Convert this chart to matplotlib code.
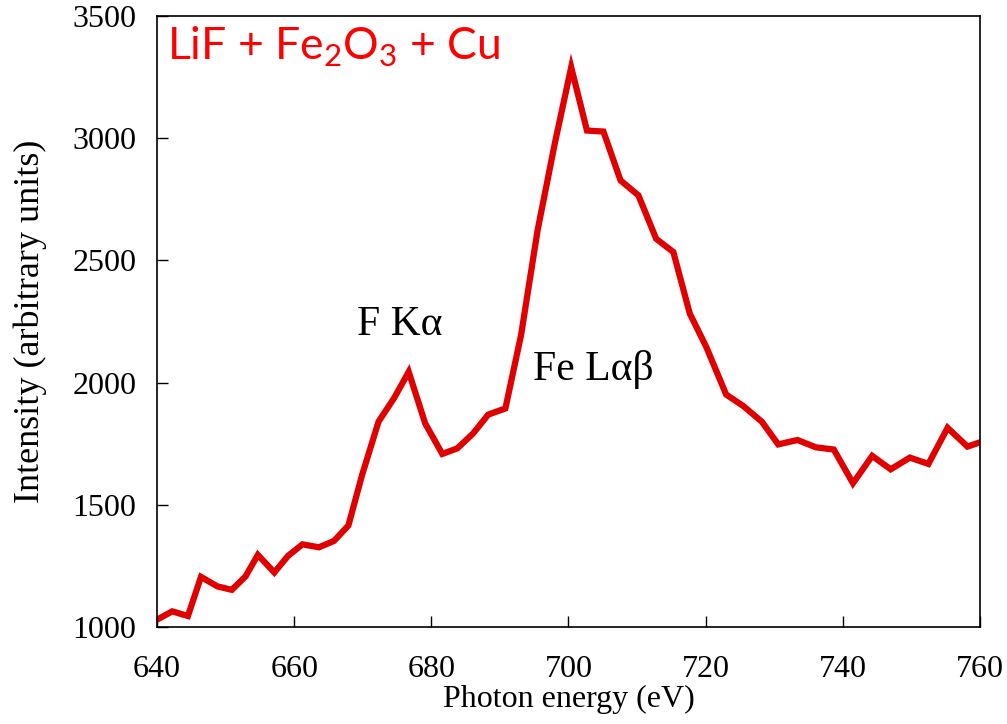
import numpy as np
import matplotlib
matplotlib.use('Agg')
import matplotlib.pyplot as plt

# photon energy (eV) and intensity
energy = [640.0, 642.2, 644.5, 646.4, 648.8, 650.9, 652.9, 654.7, 657.1, 659.1,
          661.2, 663.6, 665.8, 667.9, 669.9, 672.3, 674.6, 676.7, 679.1, 681.6,
          683.8, 686.1, 688.3, 690.8, 693.1, 695.5, 698.0, 700.4, 702.7, 705.1,
          707.6, 710.2, 712.8, 715.3, 717.7, 720.1, 723.0, 725.5, 728.2, 730.6,
          733.4, 736.1, 738.7, 741.5, 744.3, 747.0, 749.8, 752.5, 755.3, 758.2,
          760.5]
intensity = [1030, 1064, 1045, 1205, 1166, 1152, 1207, 1295, 1223, 1291,
             1338, 1326, 1352, 1415, 1622, 1840, 1938, 2044, 1833, 1708,
             1731, 1792, 1869, 1894, 2196, 2623, 2977, 3290, 3031, 3027,
             2827, 2766, 2588, 2534, 2282, 2146, 1951, 1904, 1840, 1747,
             1765, 1735, 1726, 1588, 1700, 1645, 1693, 1667, 1815, 1738,
             1760]

xticks = [640, 660, 680, 700, 720, 740, 760]
yticks = [1000, 1500, 2000, 2500, 3000, 3500]

plt.rcParams['mathtext.fontset'] = 'custom'
plt.rcParams['mathtext.rm'] = 'Lato'

fig = plt.figure(figsize=(10.07, 7.24), dpi=100)
ax = fig.add_axes([0.156, 0.134, 0.817, 0.844])

ax.plot(energy, intensity, color='#e00000', linewidth=4.5, solid_joinstyle='miter')

ax.set_xlim(640, 760)
ax.set_ylim(1000, 3500)
ax.set_xticks(xticks)
ax.set_yticks(yticks)
ax.tick_params(direction='in', length=8, width=1, top=False, right=False)
ax.tick_params(axis='x', pad=20)
ax.tick_params(axis='y', pad=15)
for lab in ax.get_xticklabels() + ax.get_yticklabels():
    lab.set_fontfamily('Liberation Serif')
    lab.set_fontsize(23)
for s in ax.spines.values():
    s.set_linewidth(1.2)

ax.set_xlabel('Photon energy (eV)', fontfamily='Liberation Serif', fontsize=23, labelpad=1)
ax.set_ylabel('Intensity (arbitrary units)', fontfamily='Liberation Serif', fontsize=26, labelpad=18)

ax.text(0.012, 0.985, r'LiF + Fe$_\mathrm{2}$O$_\mathrm{3}$ + Cu', transform=ax.transAxes,
        color='#ff0000', fontfamily='Lato', fontsize=32, ha='left', va='top')
ax.text(669.2, 2238, 'F K\u03b1', fontfamily='Liberation Serif', fontsize=30,
        ha='left', va='center')
ax.text(694.8, 2054, 'Fe L\u03b1\u03b2', fontfamily='Liberation Serif', fontsize=30,
        ha='left', va='center')

fig.savefig('out.png', dpi=100)
